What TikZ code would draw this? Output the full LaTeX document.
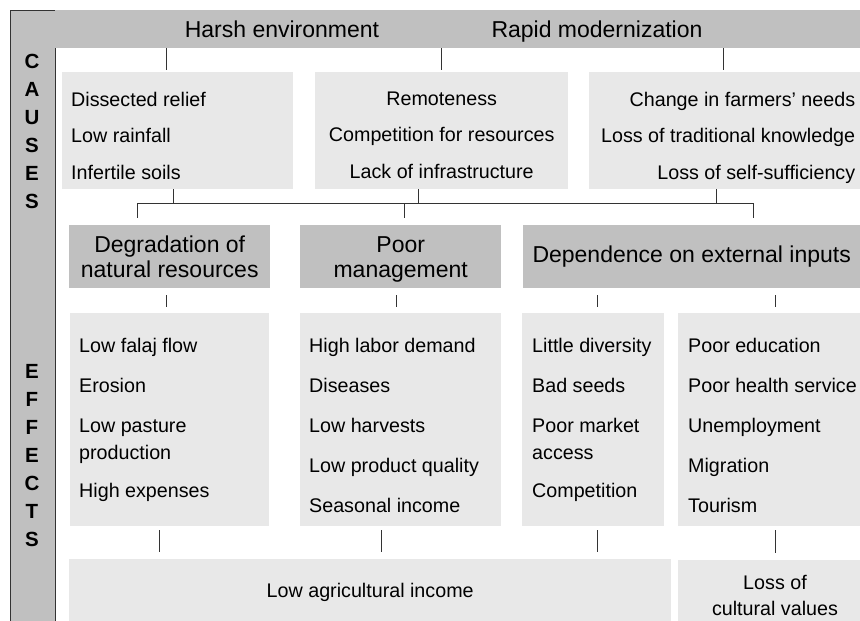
\documentclass[tikz,border=0pt]{standalone}
\usepackage{fontspec}
\setmainfont{Liberation Sans}[BoldFont={Liberation Sans Bold}]
\definecolor{hdgray}{RGB}{192,192,192}
\definecolor{bxgray}{RGB}{232,232,232}
\tikzset{
  hdbox/.style={fill=hdgray, inner sep=0pt, anchor=north west},
  ltbox/.style={fill=bxgray, inner sep=0pt, anchor=north west},
  hdfont/.style={font=\fontsize{23}{25}\selectfont},
  bodytxt/.style={font=\fontsize{19.7}{27}\selectfont, inner sep=0pt},
  sidetxt/.style={font=\bfseries\fontsize{20.5}{28}\selectfont, align=center, inner sep=0pt},
  tick/.style={draw=black!80, line width=1pt}
}
\begin{document}
\begin{tikzpicture}[x=1pt,y=-1pt]
\useasboundingbox (0,0) rectangle (860,621);

% side bar
\filldraw[fill=hdgray, draw=black!80, line width=1pt] (10,621) -- (10,10) -- (55,10) -- (55,621);
\node[sidetxt] (causes) at (32,131) {C\\A\\U\\S\\E\\S};
\node[sidetxt] (effects) at (32,456) {E\\F\\F\\E\\C\\T\\S};

% causes
\node[hdbox, minimum width=805pt, minimum height=38pt] (top) at (55,10) {};
\node[hdfont, inner sep=0pt, anchor=base] (harsh) at (282,37.2) {Harsh environment};
\node[hdfont, inner sep=0pt, anchor=base] (rapid) at (597,37.2) {Rapid modernization};

\node[ltbox, minimum width=231pt, minimum height=117pt] (c1) at (62,72) {};
\node[ltbox, minimum width=253pt, minimum height=117pt] (c2) at (315,72) {};
\node[ltbox, minimum width=271pt, minimum height=117pt] (c3) at (589,72) {};
\node[bodytxt, align=left, anchor=north west] (c1txt) at ([shift={(9,19.7)}]c1.north west)
  {Dissected relief\\[9.5pt]Low rainfall\\[9.5pt]Infertile soils};
\node[bodytxt, align=center, anchor=north] (c2txt) at ([yshift=-19.7pt]c2.north)
  {Remoteness\\[9.5pt]Competition for resources\\[9.5pt]Lack of infrastructure};
\node[bodytxt, align=right, anchor=north east] (c3txt) at ([shift={(-5,19.7)}]c3.north east)
  {Change in farmers’ needs\\[9.5pt]Loss of traditional knowledge\\[9.5pt]Loss of self-sufficiency};

\draw[tick, shorten >=2pt] ([xshift=-11.5pt]c1.north |- top.south) -- ([xshift=-11.5pt]c1.north);
\draw[tick, shorten >=2pt] (c2.north |- top.south) -- (c2.north);
\draw[tick, shorten >=2pt] ([xshift=-1.5pt]c3.north |- top.south) -- ([xshift=-1.5pt]c3.north);

% effects
\node[hdbox, hdfont, align=center, minimum width=201pt, minimum height=63pt] (e1) at (69,225) {Degradation of\\natural resources};
\node[hdbox, hdfont, align=center, text depth=0pt, minimum width=201pt, minimum height=63pt] (e2) at (300,225) {Poor\\management};
\node[hdbox, hdfont, align=center, minimum width=337pt, minimum height=63pt] (e3) at (523,225) {Dependence on external inputs};

\coordinate (busL) at (137,203);
\coordinate (busR) at (753,203);
\draw[tick] ([xshift=-4.5pt]c1.south) -- ([xshift=-4.5pt]c1.south |- busL);
\draw[tick] ([xshift=-23.5pt]c2.south) -- ([xshift=-23.5pt]c2.south |- busL);
\draw[tick] ([xshift=-8.5pt]c3.south) -- ([xshift=-8.5pt]c3.south |- busL);
\draw[tick] (busL) -- (busR);
\draw[tick, shorten >=7pt] (busL) -- (busL |- e1.north);
\draw[tick, shorten >=7pt] ([xshift=3.5pt]e2.north |- busL) -- ([xshift=3.5pt]e2.north);
\draw[tick, shorten >=7pt] (busR) -- (busR |- e3.north);

\node[ltbox, minimum width=199pt, minimum height=213pt] (f1) at (70,313) {};
\node[ltbox, minimum width=201pt, minimum height=213pt] (f2) at (300,313) {};
\node[ltbox, minimum width=142pt, minimum height=213pt] (f3) at (522,313) {};
\node[ltbox, minimum width=182pt, minimum height=213pt] (f4) at (678,313) {};
\node[bodytxt, align=left, anchor=north west] (f1txt) at ([shift={(9,24.7)}]f1.north west)
  {Low falaj flow\\[13pt]Erosion\\[13pt]Low pasture\\production\\[11pt]High expenses};
\node[bodytxt, align=left, anchor=north west] (f2txt) at ([shift={(9,24.7)}]f2.north west)
  {High labor demand\\[13pt]Diseases\\[13pt]Low harvests\\[13pt]Low product quality\\[13pt]Seasonal income};
\node[bodytxt, align=left, anchor=north west] (f3txt) at ([shift={(10,24.7)}]f3.north west)
  {Little diversity\\[13pt]Bad seeds\\[13pt]Poor market\\access\\[11pt]Competition};
\node[bodytxt, align=left, anchor=north west] (f4txt) at ([shift={(10,24.7)}]f4.north west)
  {Poor education\\[13pt]Poor health service\\[13pt]Unemployment\\[13pt]Migration\\[13pt]Tourism};

\draw[tick, shorten <=7pt, shorten >=6pt] ([xshift=-3.5pt]e1.south) -- ([xshift=-3.5pt]f1.north);
\draw[tick, shorten <=7pt, shorten >=6pt] ([xshift=-4.5pt]e2.south) -- ([xshift=-4.5pt]f2.north);
\draw[tick, shorten <=7pt, shorten >=6pt] ([xshift=4pt]f3.north |- e3.south) -- ([xshift=4pt]f3.north);
\draw[tick, shorten <=7pt, shorten >=6pt] ([xshift=6pt]f4.north |- e3.south) -- ([xshift=6pt]f4.north);

% result
\node[ltbox, bodytxt, text depth=0pt, minimum width=602pt, minimum height=62pt] (g1) at (69,559) {Low agricultural income};
\node[ltbox, minimum width=182pt, minimum height=61pt] (g2) at (678,560) {};
\node[bodytxt, align=center, font=\fontsize{19.7}{26}\selectfont] (g2txt) at (775,595) {Loss of\\cultural values};

\draw[tick, shorten <=4pt, shorten >=7pt] ([xshift=-10.5pt]f1.south) -- ([xshift=-10.5pt]f1.south |- g1.north);
\draw[tick, shorten <=4pt, shorten >=7pt] ([xshift=-19.5pt]f2.south) -- ([xshift=-19.5pt]f2.south |- g1.north);
\draw[tick, shorten <=4pt, shorten >=7pt] ([xshift=4pt]f3.south) -- ([xshift=4pt]f3.south |- g1.north);
\draw[tick, shorten <=4pt, shorten >=7pt] ([xshift=6pt]f4.south) -- ([xshift=6pt]g2.north);
\end{tikzpicture}
\end{document}
